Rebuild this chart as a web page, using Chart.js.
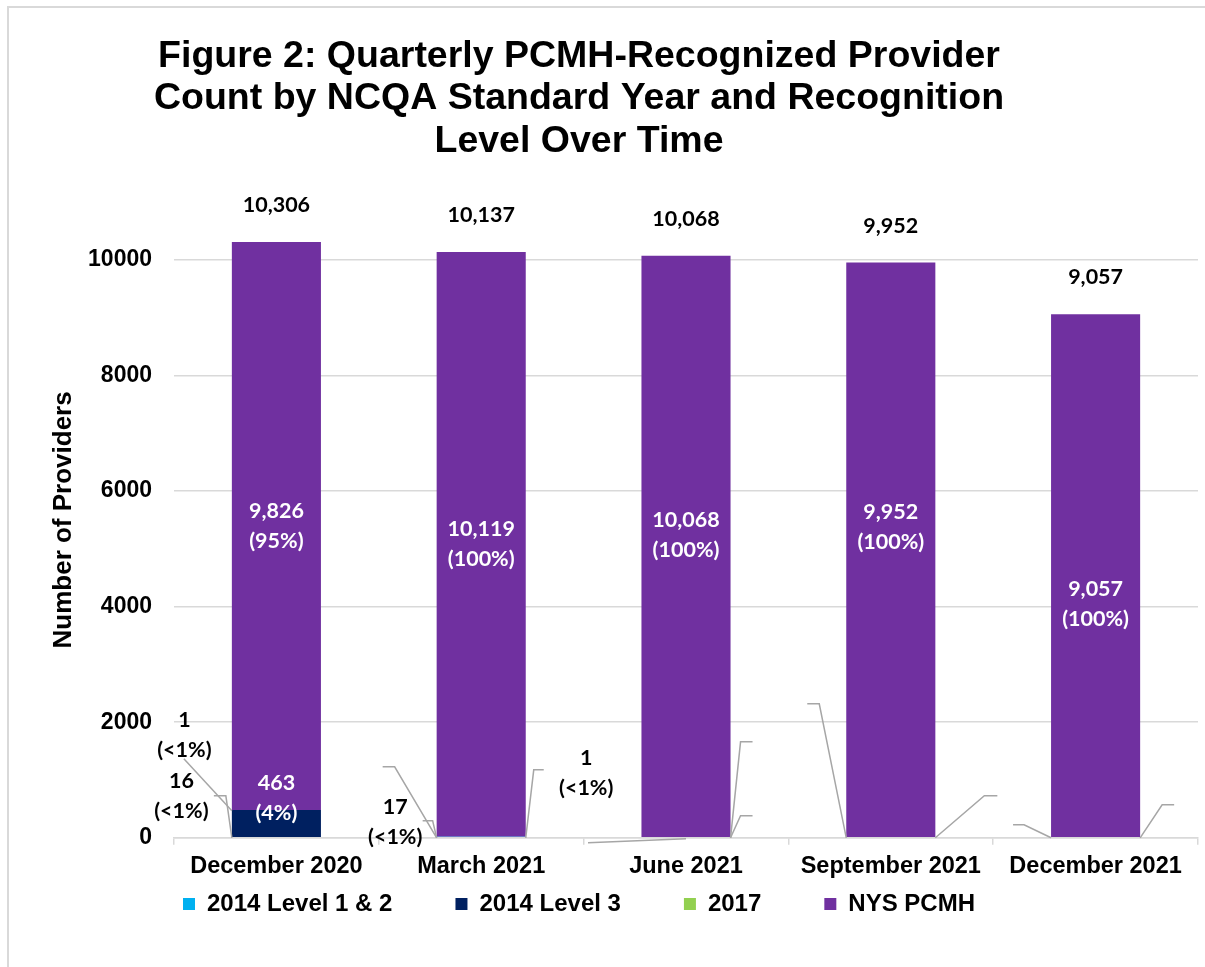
<!DOCTYPE html>
<html>
<head>
<meta charset="utf-8">
<title>Figure 2: Quarterly PCMH-Recognized Provider Count</title>
<script src="https://cdn.jsdelivr.net/npm/chart.js@4.4.1/dist/chart.umd.min.js"></script>
<style>
  html, body { margin: 0; padding: 0; background: #fff; overflow: hidden; }
  #frame { position: absolute; left: 7px; top: 6px; width: 1300px; height: 1000px; border-left: 2px solid #d9d9d9; border-top: 2px solid #d9d9d9; }
  #chart-wrap { position: absolute; left: -40px; top: 0; width: 1245px; height: 967px; }
</style>
</head>
<body>
<div id="frame"></div>
<div id="chart-wrap"><canvas id="chart-pcmh" width="1245" height="967"></canvas></div>
<script>
// --- Data ---
var quarters = ["December 2020", "March 2021", "June 2021", "September 2021", "December 2021"];
var level12_2014 = [16, 17, 0, 0, 0];
var level3_2014 = [463, 0, 0, 0, 0];
var std2017 = [1, 1, 0, 0, 0];
var nysPcmh = [9826, 10119, 10068, 9952, 9057];
var yTicks = [0, 2000, 4000, 6000, 8000, 10000];

var totals = quarters.map(function (q, j) {
  return level12_2014[j] + level3_2014[j] + std2017[j] + nysPcmh[j];
});

// label placement tweaks (pixels), keyed "dataset,index"
var labelNudges = {
  "2,0": { fromBase: true, dx: -92, dy: -103, color: "#000" },
  "0,0": { fromBase: true, dx: -95, dy: -42, color: "#000" },
  "0,1": { fromBase: true, dx: -86, dy: -16, color: "#000" },
  "2,1": { fromBase: true, dx: 105, dy: -65, color: "#000" },
  "1,0": { dy: -25 },
  "3,2": { dy: -11 },
  "3,3": { dy: -23 },
  "3,4": { dy: 28 }
};

// leader lines, relative to a bar's bottom corner (pixels)
var leaderLines = [
  { cat: 0, side: "left", pts: [[0, -27], [-48, -79]] },
  { cat: 0, side: "left", pts: [[0, 0], [-6, -42], [-18, -42]] },
  { cat: 1, side: "left", pts: [[0, 0], [-4, -17], [-14, -17]] },
  { cat: 1, side: "left", pts: [[0, 0], [-42, -71], [-54, -71]] },
  { cat: 1, side: "right", pts: [[0, 0], [8, -68], [18, -68]] },
  { cat: 2, side: "center", pts: [[0, 1], [-98, 5]] },
  { cat: 2, side: "right", pts: [[0, 0], [10, -22], [22, -22]] },
  { cat: 2, side: "right", pts: [[0, 0], [10, -96], [22, -96]] },
  { cat: 3, side: "left", pts: [[0, 0], [-27, -134], [-39, -134]] },
  { cat: 3, side: "right", pts: [[0, 0], [49, -42], [62, -42]] },
  { cat: 4, side: "left", pts: [[0, 0], [-27, -13], [-38, -13]] },
  { cat: 4, side: "right", pts: [[0, 0], [22, -33], [34, -33]] }
];

function fmt(v) {
  return v.toLocaleString("en-US");
}

function pctText(v, tot) {
  var p = v / tot * 100;
  return p < 1 ? "(<1%)" : "(" + Math.round(p) + "%)";
}

var segmentLabels = {
  id: "segmentLabels",
  afterDatasetsDraw: function (chart) {
    var ctx = chart.ctx;
    var yScale = chart.scales.y;
    var base = yScale.getPixelForValue(0);
    var topMeta = chart.getDatasetMeta(3);

    ctx.save();
    // leader lines
    ctx.strokeStyle = "#a6a6a6";
    ctx.lineWidth = 1.5;
    leaderLines.forEach(function (ln) {
      var bar = topMeta.data[ln.cat];
      var ax = bar.x;
      if (ln.side === "left") ax = bar.x - bar.width / 2;
      if (ln.side === "right") ax = bar.x + bar.width / 2;
      ctx.beginPath();
      ln.pts.forEach(function (p, k) {
        if (k === 0) ctx.moveTo(ax + p[0], base + p[1]);
        else ctx.lineTo(ax + p[0], base + p[1]);
      });
      ctx.stroke();
    });

    // segment labels
    ctx.font = "bold 21.5px Lato, 'Open Sans', sans-serif";
    ctx.textAlign = "center";
    ctx.textBaseline = "middle";
    chart.data.datasets.forEach(function (ds, i) {
      chart.getDatasetMeta(i).data.forEach(function (bar, j) {
        var v = ds.data[j];
        if (!v) return;
        var n = labelNudges[i + "," + j] || {};
        var x, y;
        if (n.fromBase) {
          x = bar.x + n.dx;
          y = base + n.dy;
        } else {
          x = bar.x;
          y = (bar.y + bar.base) / 2 + (n.dy || 0);
        }
        ctx.fillStyle = n.color || "#ffffff";
        ctx.fillText(fmt(v), x, y - 15);
        ctx.fillText(pctText(v, totals[j]), x, y + 15);
      });
    });

    // totals above the stacks
    ctx.fillStyle = "#000";
    totals.forEach(function (t, j) {
      ctx.fillText(fmt(t), topMeta.data[j].x, yScale.getPixelForValue(t) - 37);
    });
    ctx.restore();
  }
};

Chart.defaults.font.family = "'Liberation Sans', Arial, sans-serif";
Chart.defaults.color = "#000";

new Chart(document.getElementById("chart-pcmh"), {
  type: "bar",
  data: {
    labels: quarters,
    datasets: [
      { label: "2014 Level 1 & 2", data: level12_2014, backgroundColor: "#00b0f0" },
      { label: "2014 Level 3", data: level3_2014, backgroundColor: "#002060" },
      { label: "2017", data: std2017, backgroundColor: "#92d050" },
      { label: "NYS PCMH", data: nysPcmh, backgroundColor: "#7030a0" }
    ]
  },
  options: {
    responsive: false,
    animation: false,
    barPercentage: 0.435,
    categoryPercentage: 1,
    layout: { padding: { left: 0, right: 7, top: 0, bottom: 41 } },
    plugins: {
      tooltip: { enabled: false },
      title: {
        display: true,
        text: ["Figure 2: Quarterly PCMH-Recognized Provider", "Count by NCQA Standard Year and Recognition", "Level Over Time"],
        font: { size: 37.5, weight: "bold", lineHeight: "42.5px" },
        color: "#000",
        padding: { top: 35, bottom: 39.5 }
      },
      legend: {
        position: "bottom",
        labels: {
          boxWidth: 12,
          boxHeight: 12,
          padding: 3,
          color: "#000",
          font: { size: 24, weight: "bold" },
          // widen the gaps between legend entries
          generateLabels: function (chart) {
            var items = Chart.defaults.plugins.legend.labels.generateLabels(chart);
            items.forEach(function (it, k) {
              if (k < items.length - 1) it.text = it.text + "\u00a0\u00a0\u00a0\u00a0\u00a0\u00a0\u00a0\u00a0\u00a0";
            });
            return items;
          }
        }
      }
    },
    scales: {
      x: {
        stacked: true,
        grid: { drawOnChartArea: false, drawTicks: true, tickLength: 7, color: "#d9d9d9", lineWidth: 1.5 },
        border: { display: true, color: "#d9d9d9", width: 1.5 },
        ticks: { padding: 8, font: { size: 23.5, weight: "bold" }, color: "#000", maxRotation: 0 }
      },
      y: {
        stacked: true,
        min: 0,
        max: 11000,
        afterBuildTicks: function (axis) {
          axis.ticks = yTicks.map(function (v) { return { value: v }; });
        },
        afterFit: function (axis) { axis.width = 214; },
        grid: { drawTicks: false, lineWidth: 1.5, color: "#d9d9d9" },
        border: { display: false },
        ticks: {
          padding: 22,
          font: { size: 23, weight: "bold" },
          color: "#000",
          callback: function (v) { return String(v); }
        },
        title: {
          display: true,
          text: "Number of Providers",
          font: { size: 26, weight: "bold" },
          color: "#000",
          padding: { top: 88, bottom: 8.8 }
        }
      }
    }
  },
  plugins: [segmentLabels]
});
</script>
</body>
</html>
